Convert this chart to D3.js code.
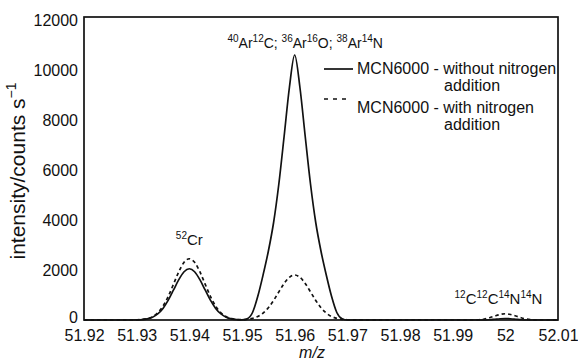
<!DOCTYPE html>
<html>
<head>
<meta charset="utf-8">
<script src="https://cdn.jsdelivr.net/npm/d3@7"></script>
<style>
  body { margin: 0; background: #fff; }
  svg { display: block; font-family: "Liberation Sans", Arial, sans-serif; }
</style>
</head>
<body>
<div id="chart"></div>
<script>
// m/z sample points (shared by both traces)
var mz = [51.920, 51.925,
  51.929, 51.930, 51.931, 51.932, 51.933, 51.934, 51.935, 51.936, 51.937, 51.938, 51.939,
  51.940, 51.941, 51.942, 51.943, 51.944, 51.945, 51.946, 51.947, 51.948, 51.949,
  51.950, 51.951, 51.952, 51.953, 51.954, 51.955, 51.956, 51.957, 51.958, 51.959,
  51.960, 51.961, 51.962, 51.963, 51.964, 51.965, 51.966, 51.967, 51.968, 51.969,
  51.970, 51.975, 51.980, 51.985, 51.990, 51.994,
  51.995, 51.996, 51.997, 51.998, 51.999, 52.000, 52.001, 52.002, 52.003, 52.004,
  52.005, 52.006, 52.010];

// MCN6000 - without nitrogen addition (solid)
var withoutN = [0, 0,
  0, 5, 16, 45, 111, 242, 463, 792, 1201, 1615, 1931,
  2050, 1931, 1615, 1201, 792, 463, 242, 111, 45, 16,
  5, 50, 300, 950, 1800, 2750, 3900, 5450, 7350, 9300,
  10600, 9300, 7350, 5450, 3900, 2750, 1800, 950, 300, 50,
  0, 0, 0, 0, 0, 0,
  0, 0, 10, 30, 50, 60, 50, 30, 10, 0,
  0, 0, 0];

// MCN6000 - with nitrogen addition (dashed)
var withN = [0, 0,
  0, 7, 20, 54, 133, 289, 554, 946, 1435, 1931, 2308,
  2450, 2308, 1931, 1435, 946, 554, 289, 133, 54, 20,
  15, 27, 65, 140, 277, 490, 783, 1127, 1462, 1708,
  1800, 1708, 1462, 1127, 783, 490, 277, 140, 65, 27,
  10, 0, 0, 0, 0, 0,
  10, 40, 90, 160, 220, 250, 220, 160, 90, 40,
  10, 0, 0];

var xTicks = [51.92, 51.93, 51.94, 51.95, 51.96, 51.97, 51.98, 51.99, 52, 52.01];
var yTicks = [0, 2000, 4000, 6000, 8000, 10000, 12000];

var legendLabels = [
  ['MCN6000 - without nitrogen', 'addition'],
  ['MCN6000 - with nitrogen', 'addition']
];

// peak labels: [text, isSuperscript]
var peakLabels = [
  {mz: 51.962, parts: [['40', 1], ['Ar', 0], ['12', 1], ['C; ', 0], ['36', 1], ['Ar', 0],
    ['16', 1], ['O; ', 0], ['38', 1], ['Ar', 0], ['14', 1], ['N', 0]], y: 48, size: 14},
  {mz: 51.9400, parts: [['52', 1], ['Cr', 0]], y: 245, size: 15},
  {mz: 51.9987, parts: [['12', 1], ['C', 0], ['12', 1], ['C', 0], ['14', 1], ['N', 0],
    ['14', 1], ['N', 0]], y: 304, size: 15}
];

var W = 578, H = 364;
var plotL = 84, plotR = 558, plotT = 17, plotB = 320;

var svg = d3.select('#chart')
  .append('svg')
  .attr('width', W)
  .attr('height', H);

var x = d3.scaleLinear().domain([51.92, 52.01]).range([plotL, plotR]);
var y = d3.scaleLinear().domain([0, 12000]).range([plotB, 20]);

function superText(sel, parts, size) {
  var supSize = Math.round(size * 0.68);
  var raised = false;
  parts.forEach(function(p) {
    var t = sel.append('tspan').text(p[0]);
    if (p[1]) {
      t.attr('font-size', supSize + 'px');
      if (!raised) { t.attr('dy', -size * 0.42); raised = true; }
    } else {
      t.attr('font-size', size + 'px');
      if (raised) { t.attr('dy', size * 0.42); raised = false; }
    }
  });
}

var pts = mz.map(function(m, i) { return {m: m, a: withoutN[i], b: withN[i]}; });

var lineA = d3.line()
  .x(function(d) { return x(d.m); })
  .y(function(d) { return y(d.a); })
  .curve(d3.curveMonotoneX);
var lineB = d3.line()
  .x(function(d) { return x(d.m); })
  .y(function(d) { return y(d.b); })
  .curve(d3.curveMonotoneX);

svg.append('path')
  .datum(pts)
  .attr('d', lineB)
  .attr('fill', 'none')
  .attr('stroke', '#111')
  .attr('stroke-width', 1.7)
  .attr('stroke-dasharray', '3.5,3');

svg.append('path')
  .datum(pts)
  .attr('d', lineA)
  .attr('fill', 'none')
  .attr('stroke', '#111')
  .attr('stroke-width', 1.7);

// axes
var xAxis = svg.append('g')
  .attr('transform', 'translate(0,' + plotB + ')')
  .call(d3.axisBottom(x).tickValues(xTicks).tickSize(0).tickPadding(10)
    .tickFormat(function(d) { return String(+d.toFixed(2)); }));
var yAxis = svg.append('g')
  .attr('transform', 'translate(' + plotL + ',0)')
  .call(d3.axisLeft(y).tickValues(yTicks).tickSize(0).tickPadding(6)
    .tickFormat(d3.format('d')));

[xAxis, yAxis].forEach(function(a) {
  a.select('.domain').remove();
  a.selectAll('text')
    .attr('font-family', '"Liberation Sans", Arial, sans-serif')
    .attr('font-size', '16px')
    .attr('fill', '#111');
});
// lift the 0 label a little so it clears 51.92
yAxis.selectAll('.tick text')
  .filter(function(d) { return d === 0; })
  .attr('dy', '0.18em');

// frame
svg.append('rect')
  .attr('x', plotL)
  .attr('y', plotT)
  .attr('width', plotR - plotL)
  .attr('height', plotB - plotT)
  .attr('fill', 'none')
  .attr('stroke', '#111')
  .attr('stroke-width', 1.7);

// axis titles
var yTitle = svg.append('text')
  .attr('transform', 'translate(25,171) rotate(-90)')
  .attr('text-anchor', 'middle')
  .attr('fill', '#111');
superText(yTitle, [['intensity/counts s', 0], ['\u22121', 1]], 21);

svg.append('text')
  .attr('x', 312)
  .attr('y', 358)
  .attr('text-anchor', 'middle')
  .attr('font-size', '16px')
  .attr('font-style', 'italic')
  .attr('fill', '#111')
  .text('m/z');

// peak labels
peakLabels.forEach(function(l) {
  var t = svg.append('text')
    .attr('x', x(l.mz))
    .attr('y', l.y)
    .attr('text-anchor', 'middle')
    .attr('fill', '#111');
  superText(t, l.parts, l.size);
});

// legend
var lg = svg.append('g');
lg.append('line')
  .attr('x1', 324).attr('x2', 353)
  .attr('y1', 69).attr('y2', 69)
  .attr('stroke', '#111').attr('stroke-width', 1.7);
lg.append('line')
  .attr('x1', 324).attr('x2', 347)
  .attr('y1', 99).attr('y2', 99)
  .attr('stroke', '#111').attr('stroke-width', 1.7)
  .attr('stroke-dasharray', '4,5');

legendLabels.forEach(function(lab, i) {
  var y0 = 74 + i * 39;
  lg.append('text')
    .attr('x', 357).attr('y', y0)
    .attr('font-size', '16px').attr('fill', '#111')
    .text(lab[0]);
  lg.append('text')
    .attr('x', 444).attr('y', y0 + 17)
    .attr('font-size', '16px').attr('fill', '#111')
    .text(lab[1]);
});
</script>
</body>
</html>
